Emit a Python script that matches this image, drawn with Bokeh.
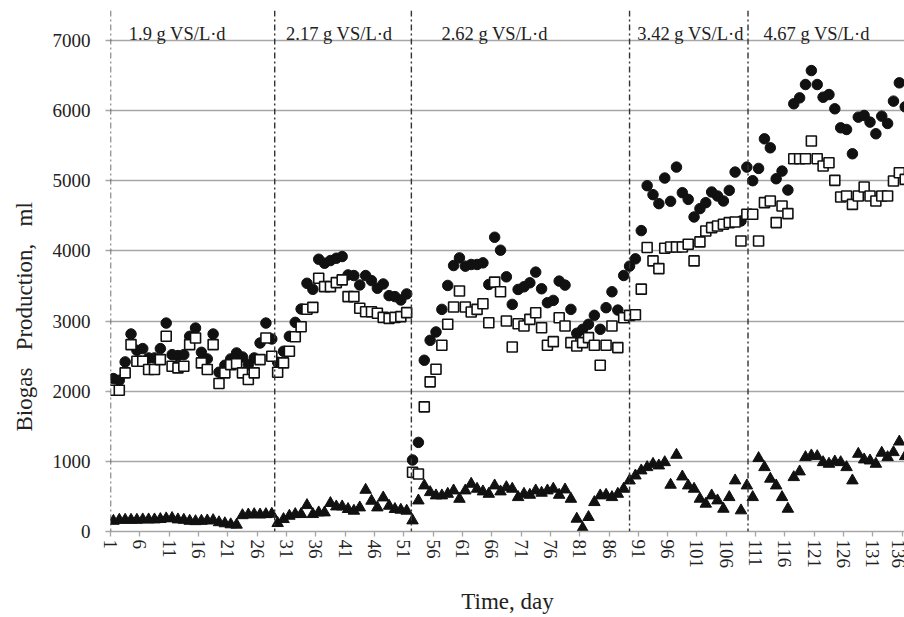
from bokeh.plotting import figure
from bokeh.models import (Range1d, FixedTicker, Span, Title, ColumnDataSource)
from bokeh.core.properties import value
from bokeh.embed import file_html
from bokeh.resources import INLINE

# ---------------- data ----------------
days = list(range(1, 137))

filled_circles = [
    2180, 2156, 2417, 2815, 2583, 2607, 2474, 2474, 2607, 2971,
    2521, 2507, 2521, 2782, 2900, 2554, 2460, 2815, 2270, 2370,
    2460, 2545, 2488, 2379, 2474, 2687, 2971, 2744, 2412, 2569,
    2782, 2981, 3171, 3538, 3452, 3881, 3824, 3862, 3895, 3919,
    3657, 3648, 3514, 3648, 3576, 3467, 3528, 3362, 3348, 3300,
    3386, 1019, 1270, 2441, 2725, 2844, 3166, 3507, 3791, 3900,
    3782, 3806, 3806, 3829, 3521, 4194, 4009, 3630, 3237, 3450,
    3488, 3545, 3697, 3460, 3261, 3294, 3569, 3512, 3166, 2825,
    2882, 2953, 3081, 2882, 3190, 3417, 3156, 3649, 3782, 3886,
    4289, 4929, 4801, 4673, 5038, 4706, 5194, 4829, 4734, 4483,
    4602, 4687, 4839, 4782, 4711, 4862, 5123, 4426, 5194, 5000,
    5175, 5597, 5469, 5028, 5137, 4867, 6096, 6181, 6371, 6570,
    6371, 6190, 6228, 6025, 5754, 5730, 5384, 5906, 5930, 5835,
    5669, 5920, 5816, 6134, 6395, 6053,
]

open_squares = [
    2014, 2014, 2261, 2664, 2427, 2427, 2308, 2308, 2450, 2782,
    2355, 2332, 2355, 2664, 2758, 2403, 2308, 2664, 2109, 2261,
    2379, 2393, 2261, 2166, 2261, 2450, 2758, 2498, 2270, 2403,
    2569, 2776, 2919, 3167, 3195, 3610, 3490, 3490, 3548, 3586,
    3348, 3348, 3181, 3133, 3133, 3110, 3052, 3038, 3052, 3062,
    3119, 844, 820, 1777, 2133, 2313, 2654, 2953, 3199, 3427,
    3199, 3128, 3166, 3246, 2976, 3555, 3417, 3000, 2630, 2962,
    2929, 3024, 3118, 2905, 2654, 2706, 3047, 2929, 2692, 2645,
    2692, 2763, 2654, 2370, 2654, 2929, 2621, 3047, 3081, 3090,
    3454, 4047, 3857, 3747, 4037, 4056, 4056, 4056, 4094, 3857,
    4128, 4284, 4331, 4355, 4379, 4403, 4412, 4141, 4521, 4521,
    4141, 4687, 4711, 4403, 4640, 4531, 5313, 5313, 5313, 5565,
    5313, 5209, 5256, 5005, 4767, 4782, 4663, 4782, 4910, 4782,
    4711, 4782, 4782, 4995, 5114, 5019,
]

triangles = [
    150, 165, 165, 165, 165, 170, 170, 170, 175, 185,
    190, 170, 165, 150, 145, 150, 155, 160, 130, 115,
    100, 95, 230, 240, 245, 240, 245, 250, 118, 175,
    222, 246, 246, 374, 246, 270, 270, 403, 355, 355,
    318, 294, 341, 592, 436, 341, 483, 365, 318, 308,
    294, 156, 440, 654, 559, 512, 512, 535, 583, 464,
    583, 678, 607, 569, 535, 654, 569, 630, 607, 488,
    535, 521, 583, 550, 583, 607, 521, 597, 464, 180,
    47, 204, 417, 512, 521, 488, 535, 607, 725, 796,
    868, 915, 962, 939, 986, 664, 1091, 782, 654, 607,
    465, 394, 512, 441, 322, 488, 726, 299, 654, 488,
    1044, 915, 750, 654, 488, 322, 773, 854, 1058, 1082,
    1072, 986, 963, 996, 986, 915, 726, 1105, 1025, 1010,
    963, 1120, 1058, 1129, 1280, 1072,
]

x_tick_labels = [str(d) for d in range(1, 137, 5)]
y_ticks = [0, 1000, 2000, 3000, 4000, 5000, 6000, 7000]

phase_bounds = [0.5, 28.5, 51.8, 89.0, 109.2]
phase_labels = ["1.9 g VS/L\u00b7d", "2.17 g VS/L\u00b7d", "2.62 g VS/L\u00b7d",
                "3.42 g VS/L\u00b7d", "4.67 g VS/L\u00b7d"]

y_title = "Biogas\u00a0\u00a0\u00a0Production,\u00a0\u00a0\u00a0ml"
x_title = "Time, day"

# ---------------- layout ----------------
SERIF = "Liberation Serif"
GRID = "#a6a6a6"
TXT = "#222222"

p = figure(width=904, height=617, output_backend="svg", toolbar_location=None,
           x_range=Range1d(0.5, 135.88), y_range=Range1d(0, 7426),
           min_border_left=110, min_border_right=0, min_border_top=10,
           min_border_bottom=84)
p.outline_line_color = None
p.background_fill_color = "white"
p.border_fill_color = "white"

# grid
p.xgrid.grid_line_color = None
p.ygrid.ticker = FixedTicker(ticks=y_ticks[1:])
p.ygrid.grid_line_color = GRID
p.ygrid.grid_line_width = 1.3

# x axis
xt_pos = [d - 0.5 for d in range(1, 137, 5)]
p.xaxis.ticker = FixedTicker(ticks=xt_pos, minor_ticks=[])
p.xaxis.major_label_overrides = {pos: lab for pos, lab in zip(xt_pos, x_tick_labels)}
p.xaxis.major_label_orientation = "vertical"
p.xaxis.axis_line_color = GRID
p.xaxis.axis_line_width = 1.3
p.xaxis.major_tick_line_color = GRID
p.xaxis.major_tick_line_width = 1.3
p.xaxis.major_tick_in = 0
p.xaxis.major_tick_out = 5
p.xaxis.minor_tick_line_color = None
p.xaxis.major_label_standoff = 3
p.xaxis.major_label_text_font = SERIF
p.xaxis.major_label_text_font_size = "19px"
p.xaxis.major_label_text_color = TXT
p.xaxis.axis_label = x_title
p.xaxis.axis_label_text_font = SERIF
p.xaxis.axis_label_text_font_style = "normal"
p.xaxis.axis_label_text_font_size = "23px"
p.xaxis.axis_label_text_color = TXT
p.xaxis.axis_label_standoff = 18

# y axis
p.yaxis.ticker = FixedTicker(ticks=y_ticks, minor_ticks=[])
p.yaxis.axis_line_color = None
p.yaxis.major_tick_line_color = GRID
p.yaxis.major_tick_line_width = 1.3
p.yaxis.major_tick_in = 0
p.yaxis.major_tick_out = 5
p.yaxis.minor_tick_line_color = None
p.yaxis.major_label_standoff = 15
p.yaxis.major_label_text_font = SERIF
p.yaxis.major_label_text_font_size = "19px"
p.yaxis.major_label_text_color = TXT

# y-axis title as a side title (lets it sit below the frame centre)
p.add_layout(Title(text=y_title, align="left", offset=100, vertical_align="top",
                   text_font=SERIF, text_font_style="normal", text_font_size="23px",
                   text_color=TXT, standoff=22), "left")

# phase dividers
for b in phase_bounds:
    p.add_layout(Span(location=b, dimension="height", line_color="#333333",
                      line_width=1.4, line_dash="6 3 2 3"))

# series
src = ColumnDataSource(dict(day=days, c=filled_circles, s=open_squares, t=triangles))
p.scatter("day", "c", source=src, marker="circle", size=10.5,
          fill_color="#111111", line_color="#111111")
p.scatter("day", "s", source=src, marker="square", size=10,
          fill_color="white", line_color="#111111", line_width=1.6)
p.scatter("day", "t", source=src, marker="triangle", size=11.5,
          fill_color="#111111", line_color="#111111")

# phase labels
label_x = [11.9, 39.5, 66.0, 99.4, 120.9]
p.text(x=label_x, y=[7090] * 5, text=phase_labels,
       text_font=value(SERIF), text_font_size="18.5px", text_color=TXT,
       text_align="center", text_baseline="alphabetic")

open("out.html", "w").write(file_html(p, INLINE))
